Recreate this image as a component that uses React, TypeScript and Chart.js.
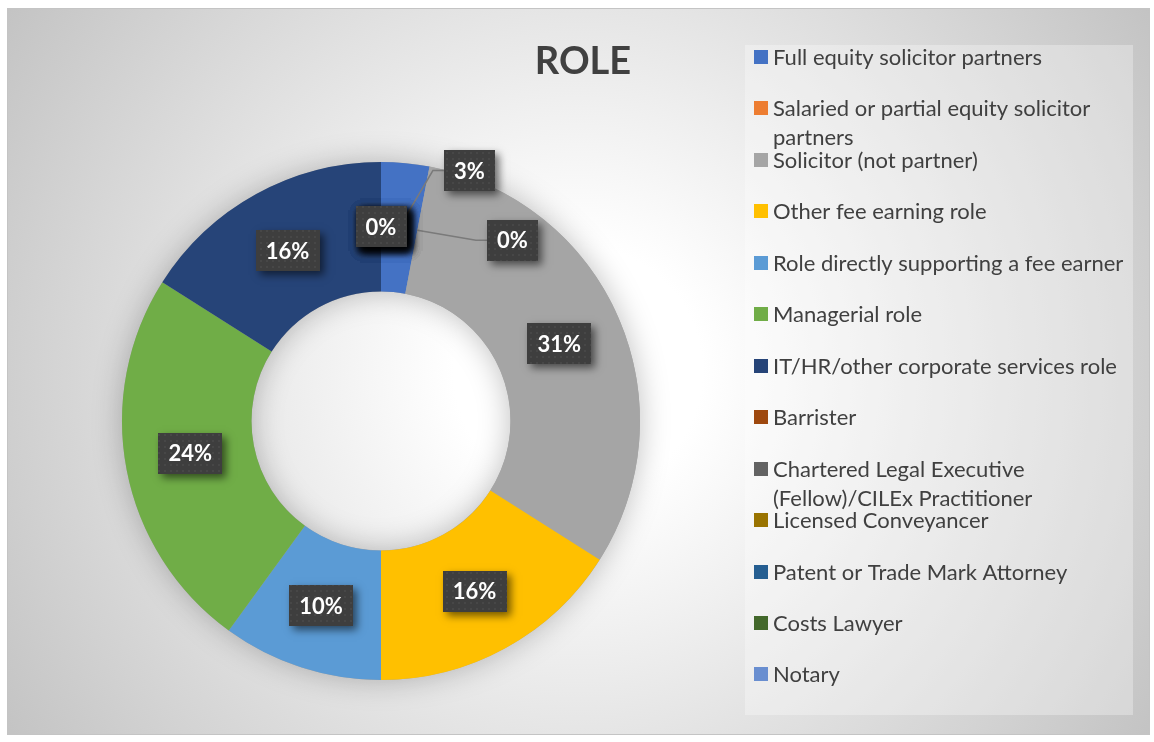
import React, { useEffect, useRef } from "react";
import { Chart, registerables } from "chart.js";

Chart.register(...registerables);

const chartTitle = "ROLE";

const categories = [
  "Full equity solicitor partners",
  "Salaried or partial equity solicitor partners",
  "Solicitor (not partner)",
  "Other fee earning role",
  "Role directly supporting a fee earner",
  "Managerial role",
  "IT/HR/other corporate services role",
  "Barrister",
  "Chartered Legal Executive (Fellow)/CILEx Practitioner",
  "Licensed Conveyancer",
  "Patent or Trade Mark Attorney",
  "Costs Lawyer",
  "Notary",
];

const shares = [3, 0, 31, 16, 10, 24, 16, 0, 0, 0, 0, 0, 0];

const sliceColors = [
  "#4472C4",
  "#ED7D31",
  "#A5A5A5",
  "#FFC000",
  "#5B9BD5",
  "#70AD47",
  "#264478",
  "#9E480E",
  "#636363",
  "#997300",
  "#255E91",
  "#43682B",
  "#698ED0",
];

// manual displacement of crowded data labels (style, in px)
const labelShift: Array<[number, number]> = [
  [70, -57],
  [95, 10],
  [0, 0], [0, 0], [0, 0], [0, -4], [0, 0], [0, 0], [0, 0], [0, 0], [0, 0], [0, 0], [0, 0],
];

const W = 1154;
const H = 742;
const TEXT = "#404040";

function makeDotPattern(ctx: CanvasRenderingContext2D) {
  const c = document.createElement("canvas");
  c.width = 6;
  c.height = 6;
  const p = c.getContext("2d")!;
  p.fillStyle = "#3e3e3e";
  p.fillRect(0, 0, 6, 6);
  p.fillStyle = "#474747";
  p.fillRect(2, 2, 2, 2);
  return ctx.createPattern(c, "repeat");
}

function wrapText(ctx: CanvasRenderingContext2D, text: string, maxW: number) {
  const words = text.split(" ");
  const lines: string[] = [];
  let cur = "";
  for (const w of words) {
    const t = cur ? cur + " " + w : w;
    if (ctx.measureText(t).width > maxW && cur) {
      lines.push(cur);
      cur = w;
    } else cur = t;
  }
  if (cur) lines.push(cur);
  return lines;
}

const decorPlugin = {
  id: "decor",
  beforeDraw(chart: any) {
    const ctx: CanvasRenderingContext2D = chart.ctx;
    ctx.save();
    const cx = 578, cy = 371;
    const g = ctx.createRadialGradient(cx, cy, 0, cx, cy, 690);
    g.addColorStop(0, "#ffffff");
    g.addColorStop(0.18, "#ffffff");
    g.addColorStop(1, "#c2c2c2");
    ctx.fillStyle = "#ffffff";
    ctx.fillRect(0, 0, W, H);
    ctx.fillStyle = g;
    ctx.fillRect(7, 8, 1143, 727);
    ctx.strokeStyle = "#c4c4c4";
    ctx.lineWidth = 1;
    ctx.strokeRect(7.5, 8.5, 1142, 726);
    // legend panel
    ctx.fillStyle = "rgba(255,255,255,0.3)";
    ctx.fillRect(745, 45, 388, 670);
    // title
    ctx.fillStyle = TEXT;
    ctx.font = "bold 38px Lato";
    ctx.textAlign = "center";
    ctx.textBaseline = "alphabetic";
    ctx.fillText(chartTitle, 583, 74);
    ctx.restore();
  },
  beforeDatasetsDraw(chart: any) {
    const ctx: CanvasRenderingContext2D = chart.ctx;
    const meta = chart.getDatasetMeta(0);
    const a = meta.data[2].getProps(["x", "y", "innerRadius", "outerRadius"]);
    ctx.save();
    ctx.shadowColor = "rgba(0,0,0,0.25)";
    ctx.shadowBlur = 30;
    ctx.beginPath();
    ctx.arc(a.x, a.y, a.outerRadius, 0, Math.PI * 2);
    ctx.arc(a.x, a.y, a.innerRadius, 0, Math.PI * 2, true);
    ctx.closePath();
    ctx.fillStyle = "#a5a5a5";
    ctx.fill();
    ctx.restore();
  },
  afterDatasetsDraw(chart: any) {
    const ctx: CanvasRenderingContext2D = chart.ctx;
    const meta = chart.getDatasetMeta(0);
    const data: number[] = chart.data.datasets[0].data;
    const total = data.reduce((s, v) => s + v, 0);
    ctx.save();
    ctx.font = "bold 22px Lato";
    const items = meta.data.map((arc: any, i: number) => {
      const p = arc.getProps(["x", "y", "startAngle", "endAngle", "innerRadius", "outerRadius"]);
      const mid = (p.startAngle + p.endAngle) / 2;
      const r = (p.innerRadius + p.outerRadius) / 2;
      const ax = p.x + Math.cos(mid) * r;
      const ay = p.y + Math.sin(mid) * r;
      const sh = labelShift[i] || [0, 0];
      const text = Math.round((data[i] / total) * 100) + "%";
      const tw = ctx.measureText(text).width;
      return {
        ax, ay,
        cx: ax + sh[0], cy: ay + sh[1],
        bw: tw + 20, bh: 41, text,
        moved: Math.abs(sh[0]) > 10 || Math.abs(sh[1]) > 10,
      };
    });
    // leader lines
    ctx.strokeStyle = "#7a7a7a";
    ctx.lineWidth = 1.5;
    items.forEach((it: any) => {
      if (!it.moved) return;
      const left = it.cx - it.bw / 2;
      ctx.beginPath();
      ctx.moveTo(it.ax, it.ay);
      ctx.lineTo(left - 11, it.cy);
      ctx.lineTo(left, it.cy);
      ctx.stroke();
    });
    const pat = makeDotPattern(ctx);
    items.forEach((it: any) => {
      const x = Math.round(it.cx - it.bw / 2);
      const y = Math.round(it.cy - it.bh / 2);
      ctx.save();
      ctx.shadowColor = "rgba(0,0,0,0.55)";
      ctx.shadowBlur = 8;
      ctx.shadowOffsetX = 4;
      ctx.shadowOffsetY = 4;
      ctx.fillStyle = "#3e3e3e";
      ctx.fillRect(x, y, Math.round(it.bw), it.bh);
      ctx.restore();
      ctx.fillStyle = pat || "#3e3e3e";
      ctx.fillRect(x, y, Math.round(it.bw), it.bh);
      ctx.fillStyle = "#ffffff";
      ctx.textAlign = "center";
      ctx.textBaseline = "alphabetic";
      ctx.fillText(it.text, it.cx, it.cy + 8);
    });
    ctx.restore();
  },
  afterDraw(chart: any) {
    const ctx: CanvasRenderingContext2D = chart.ctx;
    const labels: string[] = chart.data.labels;
    const colors: string[] = chart.data.datasets[0].backgroundColor;
    ctx.save();
    ctx.font = "22px Lato";
    ctx.textAlign = "left";
    ctx.textBaseline = "alphabetic";
    labels.forEach((lab, i) => {
      const rowY = 57 + i * 51.45;
      ctx.fillStyle = colors[i];
      ctx.fillRect(754, Math.round(rowY - 7), 14, 14);
      ctx.fillStyle = TEXT;
      const lines = wrapText(ctx, lab, 362);
      lines.forEach((ln, j) => ctx.fillText(ln, 773, rowY + 8 + j * 29));
    });
    ctx.restore();
  },
};

export default function App() {
  const ref = useRef<HTMLCanvasElement | null>(null);
  useEffect(() => {
    if (!ref.current) return;
    const chart = new Chart(ref.current, {
      type: "doughnut",
      data: {
        labels: categories,
        datasets: [
          {
            data: shares,
            backgroundColor: sliceColors,
            borderWidth: 0,
          },
        ],
      },
      options: {
        responsive: false,
        animation: false,
        devicePixelRatio: 1,
        cutout: "50%",
        layout: { padding: { left: 122, right: 514, top: 162, bottom: 62 } },
        plugins: {
          legend: { display: false },
          tooltip: { enabled: false },
          title: { display: false },
        },
      },
      plugins: [decorPlugin],
    } as any);
    return () => chart.destroy();
  }, []);
  return (
    <div style={{ position: "absolute", left: 0, top: 0, width: W, height: H }}>
      <canvas ref={ref} width={W} height={H} style={{ display: "block", width: W, height: H }} />
    </div>
  );
}
